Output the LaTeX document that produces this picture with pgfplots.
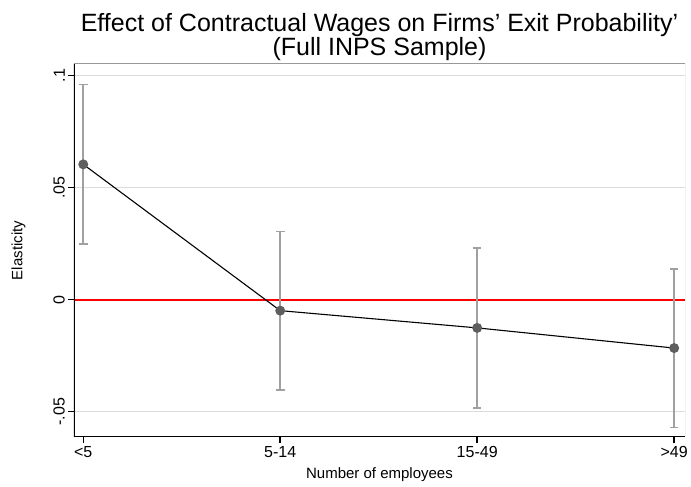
\documentclass[border=0pt]{standalone}
\usepackage{fontspec}
\setmainfont{Liberation Sans}
\usepackage{pgfplots}
\pgfplotsset{compat=1.18}
\definecolor{gridgray}{RGB}{220,220,220}
\definecolor{cigray}{RGB}{160,160,160}
\definecolor{markgray}{RGB}{94,94,94}
\begin{document}
\begin{tikzpicture}
\begin{axis}[
  scale only axis, width=611pt, height=373pt,
  xmin=-0.047, xmax=3.055, ymin=-0.0613, ymax=0.1052,
  axis line style={draw=none},
  xtick={0,1,2,3}, xticklabels={<5,5-14,15-49,>49},
  ytick={-0.05,0,0.05,0.1}, yticklabels={-.05,0,.05,.1},
  tick pos=left, tick align=outside,
  major tick length=6pt,
  tick style={black, line width=1.5pt},
  ymajorgrids, grid style={gridgray, line width=1.2pt},
  ticklabel style={font=\fontsize{16}{18}\selectfont},
  yticklabel style={rotate=90, anchor=south, inner sep=3pt},
  xticklabel style={inner sep=3pt},
  /pgf/number format/assume math mode=true,
  xlabel={Number of employees}, ylabel={Elasticity},
  label style={font=\fontsize{15}{17}\selectfont},
  xlabel style={at={(axis description cs:0.5,-0.102)}, anchor=center},
  ylabel style={at={(axis description cs:-0.091,0.5)}, anchor=center},
]
% reference line at zero
\draw[red, line width=1.8pt] (axis cs:-0.047,0) -- (axis cs:3.055,0);
\addplot[draw=none, mark=none,
  error bars/.cd, y dir=both, y explicit,
  error bar style={cigray, line width=1.6pt},
  error mark options={rotate=90, mark size=4.3pt, cigray, line width=1.6pt}]
  coordinates {
  (0,0.0604) +- (0,0.0356)
  (1,-0.0049) +- (0,0.0354)
  (2,-0.0126) +- (0,0.0357)
  (3,-0.0216) +- (0,0.0354)
};
\addplot[black, line width=1.1pt, mark=*,
  mark options={markgray, draw=markgray, mark size=4.4pt}]
  coordinates {(0,0.0604) (1,-0.0049) (2,-0.0126) (3,-0.0216)};
\draw[gray!80, line width=1pt] (rel axis cs:0,1) -- (rel axis cs:1,1) -- (rel axis cs:1,0);
\draw[black, line width=1.8pt] (rel axis cs:0,1) -- (rel axis cs:0,0) -- (rel axis cs:1,0);
\end{axis}
\node[align=center, anchor=south, inner sep=0pt, font=\fontsize{25}{24}\selectfont]
  at (305.5pt,376pt) {Effect of Contractual Wages on Firms' Exit Probability'\\(Full INPS Sample)};
\pgfresetboundingbox
\path[use as bounding box] (-74pt,-50pt) rectangle (617pt,437pt);
\end{tikzpicture}
\end{document}
